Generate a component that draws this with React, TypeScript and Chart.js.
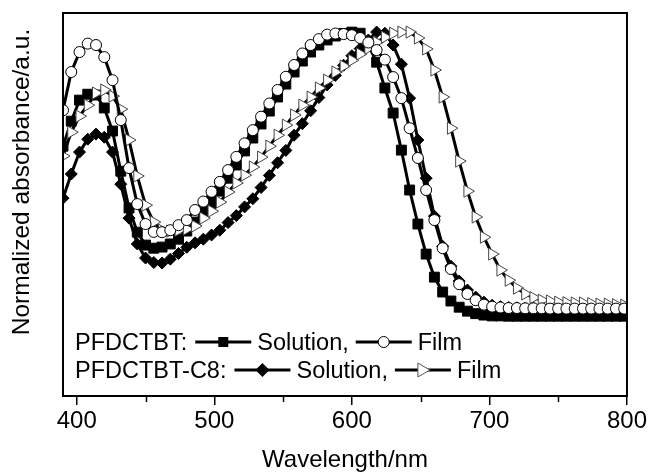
import React, { useEffect, useRef } from 'react';
import { Chart, registerables } from 'chart.js';

Chart.register(...registerables);

const wavelengths = [
  390, 396, 402, 408, 414, 420, 426, 432, 438, 444, 450, 456, 462, 468, 474, 480, 486, 492, 498, 504,
  510, 516, 522, 528, 534, 540, 546, 552, 558, 564, 570, 576, 582, 588, 594, 600, 606, 612, 618, 624,
  630, 636, 642, 648, 654, 660, 666, 672, 678, 684, 690, 696, 702, 708, 714, 720, 726, 732, 738, 744,
  750, 756, 762, 768, 774, 780, 786, 792, 798,
];

const pfdctbtSolution = [
  0.594, 0.683, 0.758, 0.779, 0.776, 0.730, 0.648, 0.505, 0.374, 0.288, 0.242, 0.231, 0.235, 0.246, 0.263, 0.292, 0.324, 0.359, 0.395, 0.434,
  0.480, 0.527, 0.577, 0.623, 0.673, 0.719, 0.769, 0.815, 0.858, 0.897, 0.929, 0.954, 0.972, 0.986, 0.995, 1.000, 0.996, 0.954, 0.893, 0.801,
  0.712, 0.580, 0.438, 0.317, 0.210, 0.128, 0.075, 0.043, 0.021, 0.007, -0.002, -0.007, -0.010, -0.010, -0.011, -0.011, -0.011, -0.011, -0.011, -0.011,
  -0.011, -0.011, -0.011, -0.011, -0.011, -0.011, -0.011, -0.011, -0.011,
];

const pfdctbtFilm = [
  0.722, 0.858, 0.929, 0.959, 0.954, 0.911, 0.829, 0.687, 0.516, 0.388, 0.317, 0.289, 0.288, 0.295, 0.313, 0.331, 0.367, 0.397, 0.432, 0.467,
  0.509, 0.556, 0.604, 0.651, 0.699, 0.746, 0.794, 0.841, 0.883, 0.924, 0.954, 0.975, 0.991, 0.995, 0.993, 0.989, 0.979, 0.963, 0.936, 0.902,
  0.840, 0.765, 0.658, 0.552, 0.438, 0.331, 0.231, 0.157, 0.103, 0.068, 0.046, 0.030, 0.023, 0.020, 0.018, 0.018, 0.017, 0.017, 0.017, 0.016,
  0.016, 0.016, 0.016, 0.016, 0.016, 0.016, 0.016, 0.016, 0.016,
];

const c8Solution = [
  0.409, 0.495, 0.573, 0.619, 0.637, 0.626, 0.573, 0.459, 0.338, 0.246, 0.196, 0.180, 0.178, 0.192, 0.212, 0.234, 0.250, 0.263, 0.278, 0.295,
  0.322, 0.347, 0.378, 0.407, 0.447, 0.490, 0.535, 0.579, 0.633, 0.674, 0.720, 0.767, 0.812, 0.846, 0.882, 0.916, 0.941, 0.972, 1.000, 0.996,
  0.954, 0.886, 0.765, 0.616, 0.480, 0.345, 0.238, 0.167, 0.114, 0.082, 0.057, 0.039, 0.028, 0.023, 0.020, 0.019, 0.018, 0.018, 0.018, 0.018,
  0.018, 0.018, 0.018, 0.018, 0.018, 0.018, 0.018, 0.018, 0.018,
];

const c8Film = [
  0.559, 0.644, 0.701, 0.740, 0.783, 0.794, 0.772, 0.726, 0.616, 0.488, 0.384, 0.324, 0.295, 0.292, 0.295, 0.299, 0.310, 0.338, 0.363, 0.395,
  0.431, 0.463, 0.491, 0.520, 0.555, 0.594, 0.633, 0.669, 0.705, 0.740, 0.769, 0.801, 0.829, 0.858, 0.879, 0.900, 0.922, 0.943, 0.964, 0.982,
  0.996, 1.000, 1.000, 0.979, 0.940, 0.865, 0.769, 0.658, 0.541, 0.434, 0.342, 0.270, 0.210, 0.153, 0.117, 0.089, 0.068, 0.055, 0.046, 0.043,
  0.039, 0.037, 0.036, 0.036, 0.034, 0.032, 0.032, 0.030, 0.028,
];

const xTickValues = [400, 450, 500, 550, 600, 650, 700, 750, 800];
const xMajorLabels = ['400', '500', '600', '700', '800'];

const legendRows = [
  { name: 'PFDCTBT:', items: [{ label: 'Solution,', style: 'rect' }, { label: 'Film', style: 'circle' }] },
  { name: 'PFDCTBT-C8:', items: [{ label: 'Solution,', style: 'rectRot' }, { label: 'Film', style: 'triangle' }] },
];

const FONT = '"Liberation Sans", Arial, sans-serif';

function drawMarker(ctx: CanvasRenderingContext2D, style: string, x: number, y: number) {
  ctx.save();
  ctx.lineWidth = 1;
  ctx.strokeStyle = '#000';
  ctx.beginPath();
  if (style === 'rect') {
    ctx.fillStyle = '#000';
    ctx.rect(x - 5, y - 5, 10, 10);
    ctx.fill();
  } else if (style === 'circle') {
    ctx.fillStyle = '#fff';
    ctx.arc(x, y, 5.5, 0, Math.PI * 2);
    ctx.fill();
    ctx.stroke();
  } else if (style === 'rectRot') {
    ctx.fillStyle = '#000';
    ctx.moveTo(x, y - 7);
    ctx.lineTo(x + 7, y);
    ctx.lineTo(x, y + 7);
    ctx.lineTo(x - 7, y);
    ctx.closePath();
    ctx.fill();
  } else {
    ctx.fillStyle = '#fff';
    ctx.strokeStyle = '#555';
    ctx.moveTo(x + 7, y);
    ctx.lineTo(x - 5, y - 7);
    ctx.lineTo(x - 5, y + 7);
    ctx.closePath();
    ctx.fill();
    ctx.stroke();
  }
  ctx.restore();
}

const framePlugin = {
  id: 'frameAndLegend',
  afterDraw(chart: any) {
    const { ctx, chartArea } = chart;
    const xs = chart.scales.x;
    ctx.save();
    // frame
    ctx.strokeStyle = '#000';
    ctx.lineWidth = 2;
    ctx.strokeRect(chartArea.left, chartArea.top, chartArea.right - chartArea.left, chartArea.bottom - chartArea.top);
    // minor ticks
    ctx.lineWidth = 1.5;
    xTickValues.forEach((v) => {
      if (v % 100 !== 0) {
        const px = Math.round(xs.getPixelForValue(v)) + 0.5;
        ctx.beginPath();
        ctx.moveTo(px, chartArea.bottom);
        ctx.lineTo(px, chartArea.bottom + 6);
        ctx.stroke();
      }
    });
    // y title
    ctx.fillStyle = '#000';
    ctx.font = '24.5px ' + FONT;
    ctx.textAlign = 'center';
    ctx.textBaseline = 'middle';
    ctx.translate(22, 182);
    ctx.rotate(-Math.PI / 2);
    ctx.fillText('Normalized absorbance/a.u.', 0, 0);
    ctx.restore();

    // legend
    ctx.save();
    ctx.font = '23.5px ' + FONT;
    ctx.fillStyle = '#000';
    ctx.textBaseline = 'alphabetic';
    ctx.textAlign = 'left';
    const baselines = [350, 378];
    legendRows.forEach((row, ri) => {
      const by = baselines[ri];
      let x = 75;
      ctx.fillText(row.name, x, by);
      x += ctx.measureText(row.name).width + 8;
      row.items.forEach((it) => {
        const cy = by - 8;
        ctx.strokeStyle = '#000';
        ctx.lineWidth = 3;
        ctx.beginPath();
        ctx.moveTo(x, cy);
        ctx.lineTo(x + 56, cy);
        ctx.stroke();
        drawMarker(ctx, it.style, x + 28, cy);
        x += 62;
        ctx.fillText(it.label, x, by);
        x += ctx.measureText(it.label).width + 7;
      });
    });
    ctx.restore();
  },
};

export default function App() {
  const canvasRef = useRef<HTMLCanvasElement | null>(null);

  useEffect(() => {
    document.body.style.margin = '0';
    const canvas = canvasRef.current;
    if (!canvas) return;
    const mk = (label: string, data: number[], extra: any) => ({
      label,
      data: wavelengths.map((w, i) => ({ x: w, y: data[i] })),
      borderColor: '#000',
      borderWidth: 3,
      pointBorderWidth: 1,
      tension: 0,
      ...extra,
    });
    const chart = new Chart(canvas, {
      type: 'line',
      data: {
        datasets: [
          mk('PFDCTBT Solution', pfdctbtSolution, {
            order: 3, pointStyle: 'rect', pointRadius: 7, pointBackgroundColor: '#000', pointBorderColor: '#000',
          }),
          mk('PFDCTBT Film', pfdctbtFilm, {
            order: 0, pointStyle: 'circle', pointRadius: 5.5, pointBackgroundColor: '#fff', pointBorderColor: '#000',
          }),
          mk('PFDCTBT-C8 Solution', c8Solution, {
            order: 2, pointStyle: 'rectRot', pointRadius: 6, pointBackgroundColor: '#000', pointBorderColor: '#000',
          }),
          mk('PFDCTBT-C8 Film', c8Film, {
            order: 1, pointStyle: 'triangle', pointRotation: 90, pointRadius: 7, pointBackgroundColor: '#fff', pointBorderColor: '#444',
          }),
        ],
      },
      options: {
        animation: false,
        responsive: false,
        maintainAspectRatio: false,
        layout: { padding: { left: 0, top: 13, right: 21, bottom: 0 } },
        plugins: { legend: { display: false }, tooltip: { enabled: false } },
        scales: {
          x: {
            type: 'linear',
            min: 390,
            max: 800,
            afterBuildTicks: (scale: any) => {
              scale.ticks = xTickValues.map((v) => ({ value: v }));
            },
            afterFit: (scale: any) => {
              scale.height = 76;
            },
            border: { display: false },
            grid: {
              drawOnChartArea: false,
              drawTicks: true,
              tickLength: 9,
              lineWidth: 1.5,
              color: (c: any) => (c.tick && c.tick.value % 100 === 0 ? '#000' : 'rgba(0,0,0,0)'),
            },
            ticks: {
              autoSkip: false,
              maxRotation: 0,
              padding: 2,
              color: '#000',
              font: { family: FONT, size: 24 },
              callback: (v: any) => (xMajorLabels.includes(String(v)) ? String(v) : ''),
            },
            title: {
              display: true,
              text: 'Wavelength/nm',
              color: '#000',
              font: { family: FONT, size: 24, lineHeight: 0.95 },
              padding: { top: 0, bottom: 0 },
            },
          },
          y: {
            type: 'linear',
            min: -0.295,
            max: 1.068,
            afterFit: (scale: any) => {
              scale.width = 63;
            },
            border: { display: false },
            grid: { display: false, drawTicks: false },
            ticks: { display: false },
          },
        },
      },
      plugins: [framePlugin],
    } as any);
    return () => chart.destroy();
  }, []);

  return (
    <div style={{ width: 649, height: 472 }}>
      <canvas ref={canvasRef} width={649} height={472} style={{ display: 'block' }} />
    </div>
  );
}
